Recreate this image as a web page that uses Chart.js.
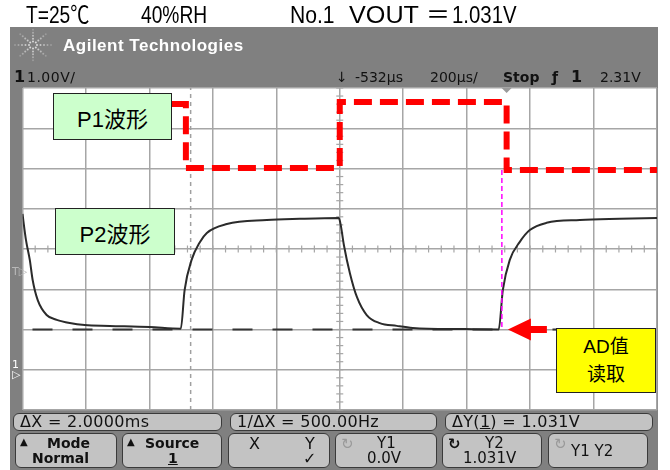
<!DOCTYPE html>
<html lang="zh">
<head>
<meta charset="UTF-8" />
<title>P1 / P2 waveform</title>
<script src="https://cdn.jsdelivr.net/npm/chart.js"></script>
<style>
  body { margin: 0; width: 670px; height: 470px; background: #fff; position: relative; overflow: hidden;
         font-family: "Liberation Sans", "Noto Sans CJK SC", sans-serif; }
  .abs { position: absolute; white-space: nowrap; }
  #frame { left: 10px; top: 27px; width: 648px; height: 443px; background: #808080; }
  #scope { position: absolute; left: 0; top: 0; }
  .top { top: 1px; font-size: 24px; line-height: 28px; transform: scaleX(0.8); transform-origin: left top; color: #000; }
  .hdr { top: 68px; font-family: "DejaVu Sans", sans-serif; font-size: 14px; line-height: 18px; color: #111; }
  .box { border: 1.5px solid #222; box-sizing: border-box; display: flex; align-items: center; justify-content: center;
         font-size: 22px; color: #000; text-align: center; }
  .key { border: 1.5px solid #3a3a3a; border-radius: 6px; background: #c3c3c3; box-sizing: border-box;
         font-family: "DejaVu Sans", sans-serif; font-size: 14px; color: #111; }
  .key span { position: absolute; white-space: nowrap; }
  .row1 span { font-size: 16px; line-height: 16px; top: 0px; letter-spacing: 0.3px; }
</style>
</head>
<body>
<div id="frame" class="abs"></div>
<canvas id="scope" width="670" height="470"></canvas>

<!-- text above the screenshot -->
<div class="abs top" style="left:26px">T=25℃</div>
<div class="abs top" style="left:141px">40%RH</div>
<div class="abs top" style="left:290px;transform:scaleX(0.88)">No.1</div>
<div class="abs top" style="left:349px;transform:scaleX(1.05)">VOUT</div>
<div class="abs top" style="left:426px;transform:scaleX(1)">＝</div>
<div class="abs top" style="left:452px;transform:scaleX(0.85)">1.031V</div>

<!-- scope header -->
<div class="abs" style="left:63px;top:36px;color:#fff;font-weight:bold;font-size:17px;letter-spacing:0.5px;">Agilent Technologies</div>
<div class="abs hdr" style="left:14px;font-weight:bold;font-size:16px;">1</div>
<div class="abs hdr" style="left:27px;letter-spacing:0.5px">1.00V/</div>
<div class="abs hdr" style="left:336px">↓</div>
<div class="abs hdr" style="left:355px">-532µs</div>
<div class="abs hdr" style="left:430px">200µs/</div>
<div class="abs hdr" style="left:503px;font-weight:bold;">Stop</div>
<div class="abs hdr" style="left:552px;font-weight:bold;">ƒ</div>
<div class="abs hdr" style="left:571px;font-weight:bold;font-size:16px;">1</div>
<div class="abs hdr" style="left:600px">2.31V</div>

<!-- left strip markers -->
<div class="abs" style="left:12px;top:265px;color:#b8b8b8;font-size:11px;font-family:'DejaVu Sans';">T▷</div>
<div class="abs" style="left:12px;top:360px;color:#fff;font-size:11px;line-height:10px;font-family:'DejaVu Sans';">1<br>▷</div>

<!-- annotation boxes -->
<div class="abs box" style="left:53px;top:93px;width:119px;height:47px;background:#ccffcc;">P1波形</div>
<div class="abs box" style="left:55px;top:208px;width:120px;height:47px;background:#ccffcc;">P2波形</div>
<div class="abs box" style="left:556px;top:328px;width:100px;height:65px;background:#ffff00;font-size:19px;line-height:28px;">AD值<br>读取</div>

<!-- softkeys -->
<div class="abs key row1" style="left:13px;top:413px;width:209px;height:18px;"><span style="left:6px">ΔX = 2.0000ms</span></div>
<div class="abs key row1" style="left:230px;top:413px;width:207px;height:18px;"><span style="left:6px">1/ΔX = 500.00Hz</span></div>
<div class="abs key row1" style="left:445px;top:413px;width:208px;height:18px;"><span style="left:6px">ΔY(<u>1</u>) = 1.031V</span></div>

<div class="abs key" style="left:15px;top:433px;width:102px;height:35px;">
  <span style="left:4px;top:2px;font-size:10px">▲</span>
  <span style="left:31px;top:1px;font-weight:bold">Mode</span>
  <span style="left:16px;top:16px;font-weight:bold">Normal</span></div>
<div class="abs key" style="left:122px;top:433px;width:100px;height:35px;">
  <span style="left:4px;top:2px;font-size:10px">▲</span>
  <span style="left:22px;top:1px;font-weight:bold">Source</span>
  <span style="left:45px;top:16px;font-weight:bold;text-decoration:underline">1</span></div>
<div class="abs key" style="left:228px;top:433px;width:102px;height:35px;font-size:16px;">
  <span style="left:20px;top:0px">X</span>
  <span style="left:76px;top:0px">Y</span>
  <span style="left:74px;top:15px">✓</span></div>
<div class="abs key" style="left:335px;top:433px;width:102px;height:35px;font-size:15px;">
  <span style="left:5px;top:1px;color:#9a9a9a">↻</span>
  <span style="left:41px;top:0px">Y1</span>
  <span style="left:31px;top:15px">0.0V</span></div>
<div class="abs key" style="left:442px;top:433px;width:100px;height:35px;font-size:15px;">
  <span style="left:5px;top:1px;font-weight:bold">↻</span>
  <span style="left:42px;top:0px">Y2</span>
  <span style="left:20px;top:15px">1.031V</span></div>
<div class="abs key" style="left:548px;top:433px;width:100px;height:35px;font-size:15px;">
  <span style="left:5px;top:1px;color:#9a9a9a">↻</span>
  <span style="left:22px;top:8px">Y1 Y2</span></div>

<script>
// time in µs (200 µs/div), voltage in V (1 V/div)
const p2Time = [-1000, -989, -977, -968, -952, -924, -892, -851, -804, -725, -599, -501,
                -489, -467, -441, -419, -356, -230, -126, -3,
                3, 13, 32, 54, 85, 126, 180, 230, 388, 501,
                514, 536, 567, 599, 652, 757, 883, 1000];
const p2Volt = [3.87, 3.22, 2.73, 2.23, 1.73, 1.36, 1.24, 1.16, 1.11, 1.09, 1.06, 1.02,
                1.98, 2.73, 3.17, 3.40, 3.62, 3.72, 3.75, 3.77,
                3.60, 3.10, 2.40, 1.81, 1.36, 1.16, 1.09, 1.04, 1.01, 1.00,
                1.98, 2.73, 3.17, 3.47, 3.65, 3.72, 3.75, 3.77];

// hand drawn P1 pulse (red dashed)
const p1Time = [-529, -485, -485, 0, 0, 526, 526, 1002];
const p1Volt = [6.60, 6.60, 5.01, 5.01, 6.65, 6.65, 4.96, 4.96];

const y2Cursor = 1.0;          // dashed level line
const xCursorTime = -470;      // grey dotted marker
const readTime = 511;          // magenta read-out line
const readVolt = [4.96, 1.0];
const arrowTip = { t: 530, v: 1.0 };

const pts = (xs, ys) => xs.map((x, i) => ({ x: x, y: ys[i] }));

const gridColor = '#a6a6a6';

const scopePlugin = {
  id: 'scope',
  beforeDraw(chart) {
    const { ctx, chartArea: a } = chart;
    ctx.save();
    ctx.fillStyle = '#fff';
    ctx.fillRect(a.left, a.top, a.right - a.left, a.bottom - a.top);
    // logo: burst of dots
    ctx.fillStyle = '#ececec';
    const cx = 33, cy = 45;
    for (let k = 0; k < 8; k++) {
      const ang = k * Math.PI / 4;
      for (let r = 4; r <= 18; r += 3.5) {
        ctx.globalAlpha = 1 - r / 24;
        ctx.beginPath();
        ctx.arc(cx + Math.cos(ang) * r, cy + Math.sin(ang) * r * 0.85, 1, 0, Math.PI * 2);
        ctx.fill();
      }
    }
    ctx.restore();
  },
  beforeDatasetsDraw(chart) {
    const { ctx, scales: { x, y } } = chart;
    ctx.save();
    ctx.strokeStyle = gridColor;
    ctx.lineWidth = 1.2;
    const y0 = y.getPixelForValue(3), x0 = x.getPixelForValue(0);
    for (let t = -1000; t <= 1000; t += 40) {
      const px = x.getPixelForValue(t);
      ctx.beginPath(); ctx.moveTo(px, y0 - 3.5); ctx.lineTo(px, y0 + 3.5); ctx.stroke();
    }
    for (let v = -1; v <= 7.001; v += 0.2) {
      const py = y.getPixelForValue(v);
      ctx.beginPath(); ctx.moveTo(x0 - 3.5, py); ctx.lineTo(x0 + 3.5, py); ctx.stroke();
    }
    // trigger position marker
    const tx = x.getPixelForValue(526), ty = chart.chartArea.top;
    ctx.fillStyle = '#9a9a9a';
    ctx.beginPath(); ctx.moveTo(tx - 5, ty); ctx.lineTo(tx + 5, ty); ctx.lineTo(tx, ty + 5); ctx.fill();
    ctx.restore();
  },
  afterDatasetsDraw(chart) {
    const { ctx, scales: { x, y } } = chart;
    const px = x.getPixelForValue(arrowTip.t), py = y.getPixelForValue(arrowTip.v);
    ctx.save();
    ctx.fillStyle = '#ff0000';
    ctx.beginPath();
    ctx.moveTo(px, py);
    ctx.lineTo(px + 23, py - 11);
    ctx.lineTo(px + 23, py - 3.5);
    ctx.lineTo(px + 39, py - 3.5);
    ctx.lineTo(px + 39, py + 3.5);
    ctx.lineTo(px + 23, py + 3.5);
    ctx.lineTo(px + 23, py + 11);
    ctx.closePath();
    ctx.fill();
    ctx.restore();
  }
};

new Chart(document.getElementById('scope'), {
  type: 'scatter',
  data: {
    datasets: [
      { label: 'P1', data: pts(p1Time, p1Volt), showLine: true, order: 0,
        borderColor: '#ff0000', borderWidth: 6, borderDash: [18, 8], pointRadius: 0 },
      { label: 'read', data: pts([readTime, readTime], readVolt), showLine: true, order: 1,
        borderColor: '#ff00ff', borderWidth: 1.5, borderDash: [5, 3], pointRadius: 0 },
      { label: 'P2', data: pts(p2Time, p2Volt), showLine: true, order: 2,
        borderColor: '#2b2b2b', borderWidth: 2, pointRadius: 0, cubicInterpolationMode: 'monotone' },
      { label: 'Y2', data: pts([-1000, 1000], [y2Cursor, y2Cursor]), showLine: true, order: 3,
        borderColor: '#333', borderWidth: 2, borderDash: [20, 20], borderDashOffset: 30, pointRadius: 0 },
      { label: 'X', data: pts([xCursorTime, xCursorTime], [-1, 7]), showLine: true, order: 4,
        borderColor: '#a0a0a0', borderWidth: 1.5, borderDash: [4, 4], pointRadius: 0 }
    ]
  },
  options: {
    responsive: false,
    animation: false,
    layout: { padding: { left: 22.5, right: 13, top: 88, bottom: 60 } },
    plugins: { legend: { display: false }, tooltip: { enabled: false } },
    scales: {
      x: { type: 'linear', min: -1000, max: 1000,
           ticks: { display: false, stepSize: 200 },
           grid: { color: gridColor, lineWidth: 1.5, drawTicks: false },
           border: { display: false } },
      y: { type: 'linear', min: -1, max: 7,
           ticks: { display: false, stepSize: 1 },
           grid: { color: gridColor, lineWidth: 1.5, drawTicks: false },
           border: { display: false } }
    }
  },
  plugins: [scopePlugin]
});
</script>
</body>
</html>
